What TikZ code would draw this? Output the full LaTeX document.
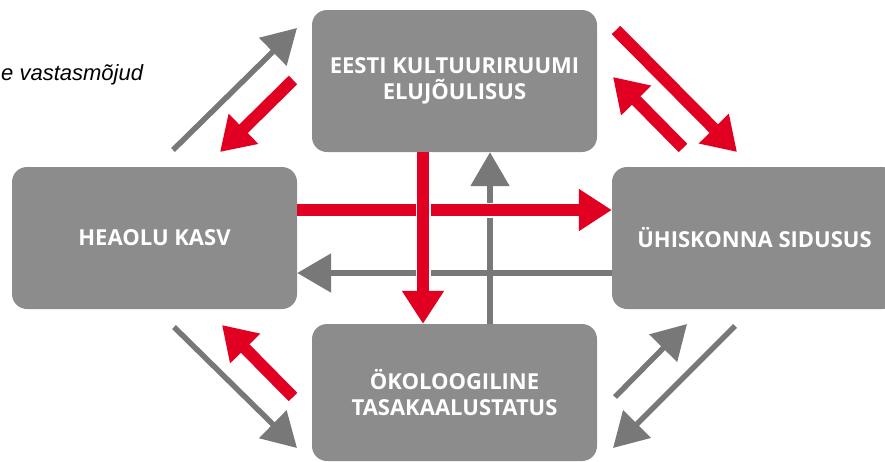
\documentclass[tikz,border=0pt]{standalone}
\usepackage{fontspec}
\setmainfont{Liberation Sans}
\newfontfamily\boxfont{Open Sans}
\usetikzlibrary{arrows.meta}

\definecolor{boxgray}{RGB}{140,140,140}
\definecolor{arrowgray}{RGB}{120,120,120}
\definecolor{estred}{RGB}{226,0,34}

\tikzset{
	box/.style={fill=boxgray, rounded corners=15pt, minimum width=285pt, minimum height=142pt, inner sep=0pt,
		text=white, align=center, font=\boxfont\bfseries\fontsize{22}{26}\selectfont},
	redarrow/.style={draw=estred, line width=12pt, -{Triangle[length=33pt, width=40pt]}},
	grayarrow/.style={draw=arrowgray, line width=5.5pt, -{Triangle[length=34pt, width=38pt]}},
	halo/.style={preaction={draw=white, line width=15pt, -}}
}

\begin{document}
\begin{tikzpicture}[x=1pt, y=-1pt]
			\useasboundingbox (0,0) rectangle (885,461);
			\clip (0,0) rectangle (885,461);

			% the four boxes
			\node[box] (kultuur) at (454.5,81) {EESTI KULTUURIRUUMI\\ELUJÕULISUS};
			\node[box] (heaolu) at (154.5,238) {HEAOLU KASV};
			\node[box] (sidusus) at (754.5,238) {ÜHISKONNA SIDUSUS};
			\node[box, minimum height=137pt] (okoloogia) at (454.5,392.5) {ÖKOLOOGILINE\\TASAKAALUSTATUS};

			\node[anchor=base west, inner sep=0pt, font=\itshape\fontsize{22}{22}\selectfont] (vastas) at (1,80) {e vastasmõjud};

			% rows and columns of the straight arrows
			\coordinate (redrow) at (0,210);
			\coordinate (grayrow) at (0,273);
			\coordinate (redcol) at (423,0);
			\coordinate (graycol) at (490,0);

			\begin{scope}
				\draw[grayarrow] (okoloogia.north -| graycol) -- (kultuur.south -| graycol);
				\draw[redarrow, halo] (heaolu.east |- redrow) -- (sidusus.west |- redrow);
				\draw[grayarrow] (sidusus.west |- grayrow) -- (heaolu.east |- grayrow);
				\draw[redarrow, halo] (kultuur.south -| redcol) -- (okoloogia.north -| redcol);
			\end{scope}

			% diagonal arrows
			\coordinate (tlgA) at (173,150);
			\coordinate (tlgB) at (297,28);
			\coordinate (tlrA) at (293,80);
			\coordinate (tlrB) at (220,152);

			\coordinate (trrA) at (616,30);
			\coordinate (trrB) at (737,152);
			\coordinate (trsA) at (683,148);
			\coordinate (trsB) at (613,77);

			\coordinate (blgA) at (174,327);
			\coordinate (blgB) at (297,448);
			\coordinate (blrA) at (293,397);
			\coordinate (blrB) at (222,325);

			\coordinate (brgA) at (615,397);
			\coordinate (brgB) at (687,324);
			\coordinate (brdA) at (735,326);
			\coordinate (brdB) at (613,448);

			\begin{scope}[redarrow]
				\draw (tlrA) -- (tlrB);
				\draw (trrA) -- (trrB);
				\draw (trsA) -- (trsB);
				\draw (blrA) -- (blrB);
			\end{scope}

			\begin{scope}[grayarrow]
				\draw (tlgA) -- (tlgB);
				\draw (blgA) -- (blgB);
				\draw (brgA) -- (brgB);
				\draw (brdA) -- (brdB);
			\end{scope}
		\end{tikzpicture}
\end{document}
